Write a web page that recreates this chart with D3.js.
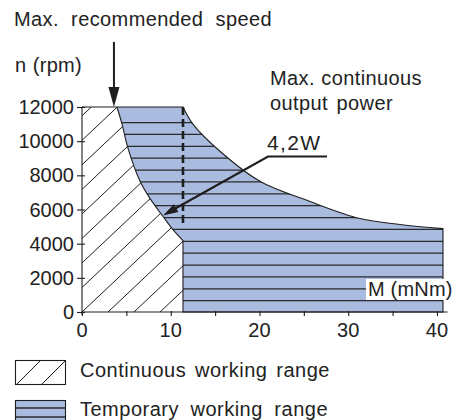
<!DOCTYPE html>
<html><head><meta charset="utf-8">
<script src="https://cdn.jsdelivr.net/npm/d3@7/dist/d3.min.js"></script>
<style>
html,body{margin:0;padding:0;background:#fff;}
svg{display:block;font-family:"Liberation Sans",Arial,sans-serif;}
text{fill:#222;}
</style></head>
<body>
<svg id="c" width="464" height="420"></svg>
<script>
// ---- data ----
const xTicks = [0, 5, 10, 15, 20, 25, 30, 35, 40];
const xTickLabels = [0, 10, 20, 30, 40];
const yTicks = [0, 2000, 4000, 6000, 8000, 10000, 12000];
// boundary of continuous working range (M in mNm, n in rpm)
const contM = [3.94, 4.51, 5.18, 6.54, 7.66, 9.13, 10.25, 11.38];
const contN = [12000, 11000, 9590, 7650, 6650, 5590, 4820, 4180];
// boundary of temporary working range
const tempM = [11.38, 12.5, 15.55, 20.06, 25.69, 31.32, 35.83, 40.68];
const tempN = [12000, 11000, 9410, 7650, 6470, 5470, 5120, 4880];
const maxSpeed = 12000;
const contLimitM = 11.38;
const dashedEndN = 5200;
const speedArrowM = 3.6;
const powerArrowTip = [9.13, 5650];
const labels = {
  title: "Max. recommended speed",
  yLabel: "n (rpm)",
  power1: "Max. continuous",
  power2: "output power",
  power: "4,2W",
  xLabel: "M (mNm)",
  leg1: "Continuous working range",
  leg2: "Temporary working range"
};

// ---- drawing ----
const svg = d3.select("#c");
const x = d3.scaleLinear().domain([0, 41.2]).range([82, 447.6]);
const y = d3.scaleLinear().domain([0, 12000]).range([312, 107]);
const blue = "#a9bbdf";
const ink = "#1e1e1e";
const FS = 20;

const defs = svg.append("defs");
const contPts = contM.map((m, i) => [m, contN[i]]);
const tempPts = tempM.map((m, i) => [m, tempN[i]]);
const line = d3.line().x(d => x(d[0])).y(d => y(d[1])).curve(d3.curveCatmullRom.alpha(0.5));
const seg = pts => line(pts).replace(/^M/, "L");
const P = (m, n) => `${x(m)},${y(n)}`;

const contPath = `M${P(0,0)}L${P(0,maxSpeed)}` + seg(contPts) + `L${P(contLimitM,0)}Z`;
const tempPath = `M${P(contM[0],maxSpeed)}L${P(contLimitM,maxSpeed)}` + seg(tempPts) +
  `L${P(tempM[tempM.length-1],0)}L${P(contLimitM,0)}` + seg(contPts.slice().reverse()) + "Z";

defs.append("clipPath").attr("id", "cc").append("path").attr("d", contPath);
defs.append("clipPath").attr("id", "tc").append("path").attr("d", tempPath);

// temporary range: blue + horizontal lines
svg.append("path").attr("d", tempPath).attr("fill", blue);
const tg = svg.append("g").attr("clip-path", "url(#tc)");
tg.selectAll("line").data(d3.range(16)).join("line")
  .attr("x1", 80).attr("x2", 450)
  .attr("y1", k => 122.6 + k * 11.87).attr("y2", k => 122.6 + k * 11.87)
  .attr("stroke", "#2a2a2a").attr("stroke-width", 1.3);

// continuous range: white + diagonal hatch
svg.append("path").attr("d", contPath).attr("fill", "#fff");
const cg = svg.append("g").attr("clip-path", "url(#cc)");
cg.selectAll("line").data(d3.range(-10, 6)).join("line")
  .attr("x1", k => 82 + k * 26).attr("y1", 312)
  .attr("x2", k => 82 + k * 26 + 265).attr("y2", 312 - 250)
  .attr("stroke", ink).attr("stroke-width", 1);

// outlines
svg.append("path").attr("d", tempPath).attr("fill", "none").attr("stroke", ink).attr("stroke-width", 1.1);
svg.append("path").attr("d", `M${P(0,maxSpeed)}L${P(contM[0],maxSpeed)}`)
  .attr("fill", "none").attr("stroke", ink).attr("stroke-width", 1.1);

// dashed vertical line
svg.append("line").attr("x1", x(contLimitM)).attr("x2", x(contLimitM))
  .attr("y1", y(maxSpeed)).attr("y2", y(dashedEndN))
  .attr("stroke", ink).attr("stroke-width", 2.6).attr("stroke-dasharray", "8,4");

// axes
const xAxis = svg.append("g").attr("transform", "translate(0,312)")
  .call(d3.axisBottom(x).tickValues(xTicks).tickSize(4).tickFormat(""));
xAxis.select(".domain").attr("d", `M${x(0)},0H${x(41.2)}`).attr("stroke", ink).attr("stroke-width", 1.1);
xAxis.selectAll(".tick line").attr("y1", -1).attr("stroke", ink).attr("stroke-width", 1.1);
svg.append("g").selectAll("text").data(xTickLabels).join("text")
  .attr("x", d => x(d)).attr("y", 337).attr("text-anchor", "middle")
  .attr("font-size", FS).text(d => d);

const yAxis = svg.append("g").attr("transform", "translate(82,0)")
  .call(d3.axisLeft(y).tickValues(yTicks).tickSize(5).tickFormat(""));
yAxis.select(".domain").attr("d", `M0,${y(maxSpeed)}V315`).attr("stroke", ink).attr("stroke-width", 1.1);
yAxis.selectAll(".tick line").attr("x1", 3).attr("stroke", ink).attr("stroke-width", 1.1);
svg.append("g").selectAll("text").data(yTicks).join("text")
  .attr("x", 74).attr("y", d => y(d) + 7).attr("text-anchor", "end")
  .attr("font-size", FS).text(d => d);

// arrowheads
function head(tx, ty, angle, len, wid) {
  const a = angle * Math.PI / 180, ca = Math.cos(a), sa = Math.sin(a);
  const bx = tx - len * ca, by = ty - len * sa;
  return `M${tx},${ty}L${bx - wid/2 * sa},${by + wid/2 * ca}L${bx + wid/2 * sa},${by - wid/2 * ca}Z`;
}
const sx = x(speedArrowM);
svg.append("line").attr("x1", sx).attr("x2", sx).attr("y1", 42).attr("y2", y(maxSpeed) - 10)
  .attr("stroke", ink).attr("stroke-width", 2);
svg.append("path").attr("d", head(sx, y(maxSpeed), 90, 20, 11)).attr("fill", ink);

const tx = x(powerArrowTip[0]), ty = y(powerArrowTip[1]);
const jx = 268, jy = 156.5;
const ang = Math.atan2(ty - jy, tx - jx) * 180 / Math.PI;
svg.append("path").attr("d", `M327,${jy}L${jx},${jy}L${tx - 10*Math.cos(ang*Math.PI/180)},${ty - 10*Math.sin(ang*Math.PI/180)}`)
  .attr("fill", "none").attr("stroke", ink).attr("stroke-width", 2.2);
svg.append("path").attr("d", head(tx, ty, ang, 15, 9)).attr("fill", ink);

// text labels: fit width mostly through word spacing
function txt(s, xx, yy, w, fs, ls) {
  const t = svg.append("text").attr("x", xx).attr("y", yy).attr("font-size", fs)
    .attr("letter-spacing", ls).text(s);
  const nat = t.node().getComputedTextLength();
  const nsp = (s.match(/ /g) || []).length;
  if (nsp > 0) t.attr("word-spacing", Math.max(0, (w - nat) / nsp));
  else t.attr("textLength", w).attr("lengthAdjust", "spacing");
}
txt(labels.title, 14, 26, 258, FS, 0.4);
txt(labels.yLabel, 15, 72, 67, FS, 0.3);
txt(labels.power1, 270, 85, 152, FS, 0.4);
txt(labels.power2, 270, 110, 123, FS, 0.4);
txt(labels.power, 267, 150, 53, 21, 0);
svg.append("rect").attr("x", 366).attr("y", 279).attr("width", 86).attr("height", 21).attr("fill", "#fff");
txt(labels.xLabel, 368, 296, 82, FS, 0.2);

// legend
const lg = svg.append("g");
lg.append("rect").attr("x", 15.5).attr("y", 360.5).attr("width", 50).attr("height", 24)
  .attr("fill", "#fff").attr("stroke", ink).attr("stroke-width", 1.1);
lg.selectAll("line.d").data([0, 25]).join("line").attr("class", "d")
  .attr("x1", d => 17 + d).attr("y1", 384).attr("x2", d => 40 + d).attr("y2", 361)
  .attr("stroke", ink).attr("stroke-width", 1);
txt(labels.leg1, 80, 377, 250, FS, 0.5);

lg.append("rect").attr("x", 15.5).attr("y", 400.5).attr("width", 50).attr("height", 24)
  .attr("fill", blue).attr("stroke", ink).attr("stroke-width", 1.1);
lg.selectAll("line.h").data([408, 417]).join("line").attr("class", "h")
  .attr("x1", 16).attr("x2", 65).attr("y1", d => d).attr("y2", d => d)
  .attr("stroke", "#2a2a2a").attr("stroke-width", 1.3);
txt(labels.leg2, 80, 416, 248, FS, 0.5);
</script>
</body></html>
